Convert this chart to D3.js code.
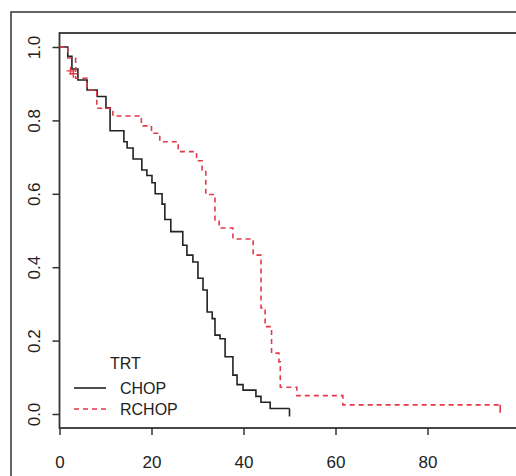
<!DOCTYPE html>
<html>
<head>
<meta charset="utf-8">
<script src="https://cdn.jsdelivr.net/npm/d3@7"></script>
<style>
  body { margin: 0; background: #fff; }
  svg { display: block; }
</style>
</head>
<body>
<svg id="chart" width="516" height="476"></svg>
<script>
// Kaplan-Meier estimates
var chopTime = [0, 1.8, 2.7, 4.0, 6.0, 8.2, 10.1, 11.0, 14.0, 14.7, 16.0, 17.9, 19.0, 20.1, 20.8,
  22.3, 22.9, 24.2, 26.8, 27.7, 29.0, 30.1, 31.2, 32.1, 33.2, 33.8, 34.9, 36.0, 37.7, 38.6,
  39.9, 42.7, 43.8, 45.8, 50.0];
var chopSurv = [1.0, 0.975, 0.94, 0.91, 0.883, 0.865, 0.834, 0.772, 0.742, 0.725, 0.695, 0.665, 0.65, 0.63, 0.60,
  0.572, 0.53, 0.497, 0.46, 0.433, 0.414, 0.37, 0.338, 0.278, 0.26, 0.215, 0.205, 0.156, 0.106, 0.08,
  0.065, 0.048, 0.032, 0.015, 0.015];

var rchopTime = [0, 1.8, 3.5, 6.0, 8.1, 11.6, 17.8, 20.0, 21.8, 25.8, 29.8, 31.0, 31.8, 33.8, 34.7,
  37.7, 42.1, 43.8, 44.7, 46.1, 47.7, 48.0, 51.6, 61.6, 95.8];
var rchopSurv = [1.0, 0.97, 0.915, 0.883, 0.833, 0.812, 0.785, 0.765, 0.742, 0.715, 0.69, 0.665, 0.598, 0.529, 0.507,
  0.477, 0.433, 0.289, 0.238, 0.166, 0.142, 0.073, 0.05, 0.025, 0.025];

// censored observations
var rchopCensT = [2.4, 3.0];
var rchopCensS = [0.935, 0.927];
var chopEndT = 50.0, chopEndS = 0.015;
var rchopEndT = 95.8, rchopEndS = 0.025;

var xTicks = [0, 20, 40, 60, 80];
var yTicks = [0, 0.2, 0.4, 0.6, 0.8, 1.0];
var legendTitle = "TRT";
var groups = ["CHOP", "RCHOP"];

var svg = d3.select("#chart");
var font = "'Liberation Sans', Arial, sans-serif";
var black = "#222222";
var red = "#e23a48";

var x = d3.scaleLinear().domain([0, 100]).range([59.5, 519.5]);
var y = d3.scaleLinear().domain([0, 1]).range([414, 47]);

// outer frame and plot box
svg.append("rect")
  .attr("x", 11).attr("y", 12)
  .attr("width", 520).attr("height", 480)
  .attr("fill", "none").attr("stroke", "#333").attr("stroke-width", 1.5);

svg.append("rect")
  .attr("x", 59.5).attr("y", 33)
  .attr("width", 470).attr("height", 395)
  .attr("fill", "none").attr("stroke", "#333").attr("stroke-width", 1.8);

// axes
var xAxis = svg.append("g")
  .attr("transform", "translate(0,428)")
  .call(d3.axisBottom(x).tickValues(xTicks).tickSize(7).tickPadding(21).tickSizeOuter(0));
xAxis.select(".domain").remove();
xAxis.selectAll("line").attr("stroke", "#333").attr("stroke-width", 1.5);
xAxis.selectAll("text")
  .attr("font-family", font).attr("font-size", 17).attr("fill", "#222");

var yAxis = svg.append("g")
  .attr("transform", "translate(59.5,0)")
  .call(d3.axisLeft(y).tickValues(yTicks).tickSize(7).tickFormat(d3.format(".1f")));
yAxis.select(".domain").remove();
yAxis.selectAll("line").attr("stroke", "#333").attr("stroke-width", 1.5);
yAxis.selectAll("text")
  .attr("font-family", font).attr("font-size", 17).attr("fill", "#222")
  .attr("text-anchor", "middle")
  .attr("x", 0).attr("dy", 0)
  .attr("transform", "translate(-25,0) rotate(-90)")
  .attr("dominant-baseline", "central");

// survival curves
var line = d3.line()
  .x(function (d) { return x(d[0]); })
  .y(function (d) { return y(d[1]); })
  .curve(d3.curveStepAfter);

svg.append("path")
  .datum(d3.zip(chopTime, chopSurv))
  .attr("d", line)
  .attr("fill", "none")
  .attr("stroke", black)
  .attr("stroke-width", 1.6);

svg.append("path")
  .datum(d3.zip(rchopTime, rchopSurv))
  .attr("d", line)
  .attr("fill", "none")
  .attr("stroke", red)
  .attr("stroke-width", 1.6)
  .attr("stroke-dasharray", "5,4");

// "+" marks for early censoring
for (var i = 0; i < rchopCensT.length; i++) {
  var cx = x(rchopCensT[i]), cy = y(rchopCensS[i]);
  svg.append("path")
    .attr("d", "M" + (cx - 4) + "," + cy + "H" + (cx + 4) + "M" + cx + "," + (cy - 4) + "V" + (cy + 4))
    .attr("stroke", red)
    .attr("stroke-width", 1.4);
}

// end-of-follow-up ticks
function endTick(t, s, col) {
  svg.append("line")
    .attr("x1", x(t)).attr("x2", x(t))
    .attr("y1", y(s)).attr("y2", y(s) + 8)
    .attr("stroke", col).attr("stroke-width", 1.6);
}
endTick(chopEndT, chopEndS, black);
endTick(rchopEndT, rchopEndS, red);

// legend
svg.append("text")
  .attr("x", 110).attr("y", 369)
  .attr("font-family", font).attr("font-size", 16).attr("fill", "#222")
  .text(legendTitle);

var legendColors = [black, red];
var legendDash = [null, "5,4"];
for (var j = 0; j < groups.length; j++) {
  var ly = 388 + j * 21;
  svg.append("line")
    .attr("x1", 74).attr("x2", 106)
    .attr("y1", ly).attr("y2", ly)
    .attr("stroke", legendColors[j])
    .attr("stroke-width", 1.6)
    .attr("stroke-dasharray", legendDash[j]);
  svg.append("text")
    .attr("x", 120).attr("y", ly + 6)
    .attr("font-family", font).attr("font-size", 16).attr("fill", "#222")
    .text(groups[j]);
}
</script>
</body>
</html>
